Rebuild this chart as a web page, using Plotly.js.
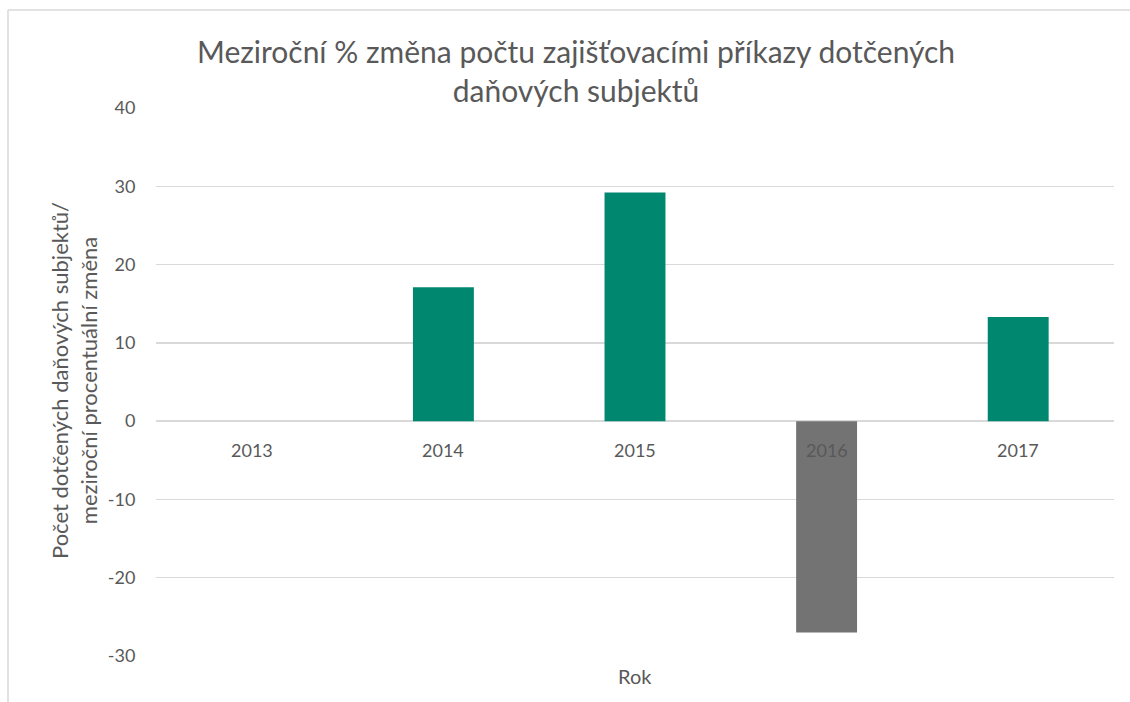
<!DOCTYPE html>
<html>
<head>
<meta charset="utf-8">
<script src="https://cdn.plot.ly/plotly-3.0.1.min.js"></script>
<style>html,body{margin:0;padding:0;background:#fff;}#chart{width:1130px;height:702px;}</style>
</head>
<body>
<div id="chart"></div>
<script>
const years = ['2013', '2014', '2015', '2016', '2017'];
const values = [null, 17.1, 29.2, -27.0, 13.3];
const yTicks = [-30, -20, -10, 0, 10, 20, 30, 40];
const yTickLabels = ['-30', '-20', '-10', '0', '10', '20', '30', '40'];
const titleText = 'Meziroční % změna počtu zajišťovacími příkazy dotčených<br>daňových subjektů';
const yTitleText = 'Počet dotčených daňových subjektů/<br>meziroční procentuální změna';
const xTitleText = 'Rok';

const posColor = '#00876f';
const negColor = '#737373';
const textColor = '#595959';
const gridColor = '#d9d9d9';
const fontFamily = 'Lato, "Open Sans", sans-serif';

const barColors = values.map(v => (v !== null && v < 0) ? negColor : posColor);

const trace = {
  type: 'bar',
  x: years,
  y: values,
  marker: {color: barColors, line: {width: 0}},
  hoverinfo: 'x+y'
};

const W = 1130, H = 702;
const plotL = 156, plotR = 1114, plotT = 108, plotB = 656;
const pw = plotR - plotL, ph = plotB - plotT;
const px = p => (p - plotL) / pw;
const py = p => (plotB - p) / ph;

const annotations = years.map((y, i) => ({
  x: i, y: 0, xref: 'x', yref: 'y',
  text: y, showarrow: false,
  yanchor: 'middle', yshift: -29,
  font: {family: fontFamily, size: 18, color: textColor}
}));
annotations.push({
  x: px(635), y: py(676), xref: 'paper', yref: 'paper',
  text: xTitleText, showarrow: false, xanchor: 'center', yanchor: 'middle',
  font: {family: fontFamily, size: 20, color: textColor}
});
annotations.push({
  x: px(74), y: py(381), xref: 'paper', yref: 'paper',
  text: yTitleText, showarrow: false, textangle: -90,
  xanchor: 'center', yanchor: 'middle',
  font: {family: fontFamily, size: 22, color: textColor}
});
annotations.push({
  x: px(576), y: py(70), xref: 'paper', yref: 'paper',
  text: titleText, showarrow: false, xanchor: 'center', yanchor: 'middle',
  font: {family: fontFamily, size: 30, color: textColor}
});

const layout = {
  width: W, height: H,
  margin: {l: plotL, r: W - plotR, t: plotT, b: H - plotB, pad: 0},
  paper_bgcolor: '#ffffff',
  plot_bgcolor: '#ffffff',
  showlegend: false,
  bargap: 0.682,
  xaxis: {
    type: 'category',
    range: [-0.5, 4.5],
    showticklabels: false,
    showgrid: false,
    zeroline: false,
    showline: false,
    ticks: ''
  },
  yaxis: {
    range: [-30, 40],
    tickvals: yTicks,
    ticktext: yTickLabels,
    showgrid: true,
    gridcolor: gridColor,
    gridwidth: 1.5,
    zeroline: true,
    zerolinecolor: gridColor,
    zerolinewidth: 1.5,
    showline: false,
    ticks: 'outside',
    ticklen: 16,
    tickcolor: 'rgba(0,0,0,0)',
    tickfont: {family: fontFamily, size: 18, color: textColor}
  },
  annotations: annotations,
  shapes: [
    {type: 'line', xref: 'paper', yref: 'paper', x0: px(8), x1: px(8), y0: py(10), y1: py(710), line: {color: gridColor, width: 1.5}},
    {type: 'line', xref: 'paper', yref: 'paper', x0: px(8), x1: px(1140), y0: py(10), y1: py(10), line: {color: gridColor, width: 1.5}}
  ]
};

Plotly.newPlot('chart', [trace], layout, {displayModeBar: false, staticPlot: true});
</script>
</body>
</html>
